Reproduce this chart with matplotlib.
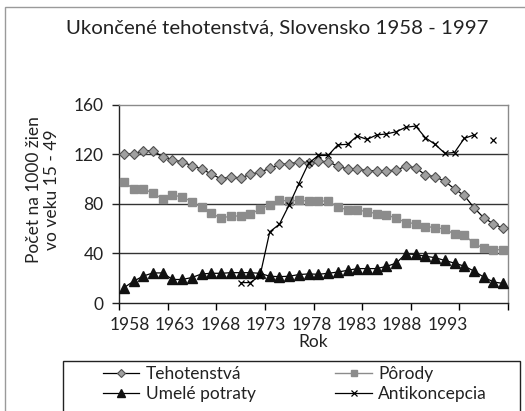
import numpy as np
import matplotlib
matplotlib.use("Agg")
import matplotlib.pyplot as plt
from matplotlib.patches import Rectangle

years = list(range(1958, 1998))
tick_years = [1958, 1963, 1968, 1973, 1978, 1983, 1988, 1993]

tehotenstva = [120.1, 120.6, 123.0, 123.0, 118.0, 115.8, 114.0, 111.0, 108.3, 104.2,
               100.3, 102.0, 101.0, 104.0, 105.8, 108.8, 112.0, 112.5, 113.8, 113.5,
               114.5, 114.2, 110.5, 108.3, 108.2, 107.0, 106.8, 107.0, 107.2, 110.7,
               109.3, 103.5, 102.0, 98.4, 92.2, 86.9, 77.0, 68.9, 64.0, 60.4]
porody = [97.8, 92.2, 92.2, 88.7, 84.2, 87.1, 85.8, 81.8, 77.2, 72.5,
          68.6, 70.3, 70.3, 72.0, 75.7, 79.5, 83.0, 82.4, 83.0, 82.4,
          82.4, 82.4, 77.6, 75.2, 75.2, 73.8, 72.2, 71.2, 68.6, 65.0,
          64.2, 61.8, 61.0, 59.7, 55.7, 55.0, 48.2, 44.2, 43.2, 43.0]
umele_potraty = [12.3, 17.6, 21.8, 24.3, 24.3, 19.0, 19.0, 20.6, 23.5, 24.0,
                 24.0, 24.5, 24.5, 24.5, 24.0, 21.6, 21.3, 21.6, 23.0, 23.5,
                 23.2, 24.0, 25.0, 26.4, 27.8, 27.8, 27.8, 29.6, 32.2, 39.8,
                 39.2, 37.8, 36.6, 34.4, 32.2, 29.8, 25.8, 21.0, 17.0, 15.8]
nan = np.nan
antikoncepcia = [nan, nan, nan, nan, nan, nan, nan, nan, nan, nan,
                 nan, nan, 16.5, 16.5, 22.0, 57.5, 63.7, 79.3, 96.5, 113.0,
                 119.2, 119.2, 127.8, 128.2, 135.0, 132.2, 135.8, 136.6, 138.4, 142.0,
                 143.0, 133.6, 128.2, 121.0, 121.6, 133.0, 135.8, nan, 131.8, nan]

FONT = "Lato"
plt.rcParams['font.family'] = [FONT, 'DejaVu Sans']

W, H = 525, 411
fig = plt.figure(figsize=(W / 100, H / 100), dpi=100)
fig.patch.set_facecolor('white')

# outer chart frame
fig.patches.append(Rectangle((5 / W, -0.1), 1.2, 1 - 7 / H + 0.1, transform=fig.transFigure,
                             fill=False, edgecolor='#9a9a9a', lw=1.0))

ax = fig.add_axes([119 / W, 1 - 303 / H, (508 - 119) / W, (303 - 105) / H])
ax.set_facecolor('white')

x = np.arange(len(years))
ax.plot(x, tehotenstva, color='black', lw=0.9, marker='D', markersize=5.5,
        markerfacecolor='#a0a0a0', markeredgecolor='#505050', markeredgewidth=0.8,
        label='Tehotenstvá', zorder=3)
ax.plot(x, porody, color='#8c8c8c', lw=1.0, marker='s', markersize=6,
        markerfacecolor='#8c8c8c', markeredgecolor='#8c8c8c',
        label='Pôrody', zorder=3)
ax.plot(x, umele_potraty, color='black', lw=0.9, marker='^', markersize=7,
        markerfacecolor='#111111', markeredgecolor='#111111',
        label='Umelé potraty', zorder=3)
ax.plot(x, antikoncepcia, color='black', lw=0.9, marker='x', markersize=5,
        markeredgewidth=0.9, label='Antikoncepcia', zorder=4)

ax.set_xlim(-0.5, len(years) - 0.5)
ax.set_ylim(0, 160)
ax.set_yticks([0, 40, 80, 120, 160])
ax.tick_params(axis='y', direction='out', length=5, width=1, labelsize=12.5, pad=6,
               colors='#222222')

# category-axis tick marks between categories, every 5
ax.set_xticks(np.arange(-0.5, len(years), 5))
ax.set_xticklabels([])
ax.tick_params(axis='x', which='major', direction='out', length=5, width=1)
lab_pos = [0.6 + 4.67 * k for k in range(len(tick_years))]
ax.set_xticks(lab_pos, minor=True)
ax.set_xticklabels([str(y) for y in tick_years], minor=True)
ax.tick_params(axis='x', which='minor', length=0, labelsize=12.5, pad=10,
               labelcolor='#222222')

for v in [40, 80, 120]:
    ax.axhline(v, color='#333333', lw=1.0, zorder=1)

for s in ['left', 'bottom']:
    ax.spines[s].set_color('#222222')
    ax.spines[s].set_linewidth(1.0)
for s in ['top', 'right']:
    ax.spines[s].set_color('#8a8a8a')
    ax.spines[s].set_linewidth(1.0)

ax.set_xlabel('Rok', fontsize=12.5, labelpad=1, color='#222222')
ax.set_ylabel('Počet na 1000 žien\nvo veku 15 - 49', fontsize=12.5,
              color='#222222', linespacing=1.15)
ax.yaxis.set_label_coords(-0.152, 0.571)

fig.text(277 / W, 1 - 28 / H, 'Ukončené tehotenstvá, Slovensko 1958 - 1997',
         ha='center', va='center', fontsize=14.7, color='#222222')

# legend frame
fig.patches.append(Rectangle((63 / W, 1 - 420 / H), (520 - 63) / W, (420 - 361) / H,
                             transform=fig.transFigure, fill=False,
                             edgecolor='#222222', lw=1.0))
handles, labels = ax.get_legend_handles_labels()
order = [0, 2, 1, 3]
leg = fig.legend([handles[i] for i in order], [labels[i] for i in order],
                 loc='upper left', bbox_to_anchor=(103 / W, 1 - 366 / H), ncol=2,
                 frameon=False, fontsize=12.5, handlelength=2.1, handletextpad=0.35,
                 columnspacing=4.6, labelspacing=0.25, borderpad=0, borderaxespad=0,
                 markerscale=0.8)
for t in leg.get_texts():
    t.set_color('#222222')

fig.savefig('out.png', dpi=100)
